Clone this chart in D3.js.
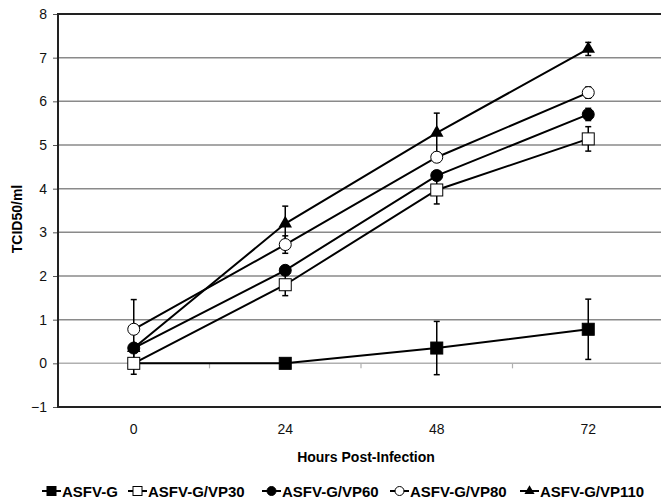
<!DOCTYPE html>
<meta charset="utf-8">
<script src="https://d3js.org/d3.v7.min.js"></script>
<style>
  body { margin: 0; background: #fff; }
  text { font-family: "Liberation Sans", Arial, sans-serif; }
</style>
<div id="chart"></div>
<script>
// data
const hours = ["0", "24", "48", "72"];
const seriesNames = ["ASFV-G", "ASFV-G/VP30", "ASFV-G/VP60", "ASFV-G/VP80", "ASFV-G/VP110"];
const asfvG    = [0, 0, 0.35, 0.78];
const asfvGErr = [0, 0, 0.61, 0.69];
const vp30     = [0, 1.8, 3.97, 5.14];
const vp30Err  = [0.25, 0.25, 0.32, 0.28];
const vp60     = [0.35, 2.13, 4.3, 5.7];
const vp60Err  = [0.08, 0.1, 0.1, 0.14];
const vp80     = [0.78, 2.72, 4.72, 6.2];
const vp80Err  = [0.68, 0.2, 0.1, 0.13];
const vp110    = [0.35, 3.2, 5.28, 7.2];
const vp110Err = [0.08, 0.4, 0.45, 0.15];
const yTicks = [-1, 0, 1, 2, 3, 4, 5, 6, 7, 8];

const markers = ["squareFilled", "squareOpen", "circleFilled", "circleOpen", "triangle"];
const errs = [asfvGErr, vp30Err, vp60Err, vp80Err, vp110Err];
const series = [asfvG, vp30, vp60, vp80, vp110].map((v, i) => ({
  name: seriesNames[i],
  marker: markers[i],
  points: v.map((y, j) => ({h: hours[j], y: y, e: errs[i][j]}))
}));

const W = 661, H = 500;
const plot = {left: 58, top: 14, right: 664, bottom: 407};

const svg = d3.select("#chart").append("svg")
  .attr("width", W).attr("height", H);

const x = d3.scaleBand().domain(hours).range([plot.left, plot.right]);
const cx = h => x(h) + x.bandwidth() / 2;
const y = d3.scaleLinear().domain([-1, 8]).range([plot.bottom, plot.top]);

// gridlines
svg.append("g").selectAll("line")
  .data(yTicks.filter(t => t !== -1))
  .join("line")
  .attr("x1", plot.left).attr("x2", W)
  .attr("y1", d => y(d)).attr("y2", d => y(d))
  .attr("stroke", d => d === 0 ? "#b0b0b0" : "#8a8a8a")
  .attr("stroke-width", 1.5);

// category ticks on the zero line
svg.append("g").selectAll("line")
  .data(hours.slice(1))
  .join("line")
  .attr("x1", d => x(d)).attr("x2", d => x(d))
  .attr("y1", y(0)).attr("y2", y(0) + 5)
  .attr("stroke", "#b0b0b0").attr("stroke-width", 1.2);

// y axis
const yAxis = svg.append("g")
  .attr("transform", `translate(${plot.left},0)`)
  .call(d3.axisLeft(y).tickValues(yTicks).tickSize(5).tickPadding(6).tickFormat(d3.format("d")));
yAxis.select(".domain").remove();
yAxis.selectAll(".tick line").attr("stroke", "#555");
yAxis.selectAll(".tick text").attr("font-size", 14).attr("fill", "#111")
  .style("font-family", "'Liberation Sans', Arial, sans-serif");

// plot border (left, top, bottom)
svg.append("path")
  .attr("d", `M${W},${plot.top}H${plot.left}V${plot.bottom}H${W}`)
  .attr("fill", "none").attr("stroke", "#222").attr("stroke-width", 2);

// x labels
const xAxis = svg.append("g")
  .attr("transform", `translate(0,${plot.bottom})`)
  .call(d3.axisBottom(x).tickSize(0).tickPadding(17));
xAxis.select(".domain").remove();
xAxis.selectAll(".tick text").attr("font-size", 14).attr("fill", "#111")
  .style("font-family", "'Liberation Sans', Arial, sans-serif");

svg.append("text")
  .attr("x", 366).attr("y", 462)
  .attr("text-anchor", "middle")
  .attr("font-size", 14).attr("font-weight", "bold")
  .text("Hours Post-Infection");

svg.append("text")
  .attr("transform", `translate(22,219) rotate(-90)`)
  .attr("text-anchor", "middle")
  .attr("font-size", 14).attr("font-weight", "bold")
  .text("TCID50/ml");

// lines
const line = d3.line().x(d => cx(d.h)).y(d => y(d.y));
svg.append("g").selectAll("path")
  .data(series)
  .join("path")
  .attr("d", d => line(d.points))
  .attr("fill", "none").attr("stroke", "#000").attr("stroke-width", 2);

// error bars
const eb = svg.append("g").attr("stroke", "#000").attr("stroke-width", 1.5);
series.forEach(s => {
  s.points.filter(p => p.e > 0).forEach(p => {
    const xx = cx(p.h);
    eb.append("line").attr("x1", xx).attr("x2", xx)
      .attr("y1", y(p.y - p.e)).attr("y2", y(p.y + p.e));
    [p.y - p.e, p.y + p.e].forEach(v => {
      eb.append("line").attr("x1", xx - 3).attr("x2", xx + 3)
        .attr("y1", y(v)).attr("y2", y(v));
    });
  });
});

function drawMarker(g, type, px, py, size) {
  const half = size / 2;
  if (type.startsWith("square")) {
    g.append("rect").attr("x", px - half).attr("y", py - half)
      .attr("width", size).attr("height", size)
      .attr("fill", type === "squareFilled" ? "#000" : "#fff")
      .attr("stroke", "#000").attr("stroke-width", 1);
  } else if (type.startsWith("circle")) {
    g.append("circle").attr("cx", px).attr("cy", py).attr("r", half)
      .attr("fill", type === "circleFilled" ? "#000" : "#fff")
      .attr("stroke", "#000").attr("stroke-width", 1);
  } else {
    g.append("path")
      .attr("d", d3.symbol().type(d3.symbolTriangle).size(size * size * 0.55)())
      .attr("transform", `translate(${px},${py})`)
      .attr("fill", "#000");
  }
}

// markers
const mk = svg.append("g");
series.forEach(s => {
  s.points.forEach(p => {
    if (s.name === "ASFV-G" && p.h === "0") return;
    drawMarker(mk, s.marker, cx(p.h), y(p.y), 12);
  });
});

// legend
const legendX = [42, 128, 262, 390, 520];
const leg = svg.append("g");
series.forEach((s, i) => {
  const g = leg.append("g").attr("transform", `translate(${legendX[i]},491)`);
  g.append("line").attr("x1", 0).attr("x2", 19).attr("y1", 0).attr("y2", 0)
    .attr("stroke", "#000").attr("stroke-width", 2);
  drawMarker(g, s.marker, 9.5, 0, 9);
  g.append("text").attr("x", 20).attr("y", 5.5)
    .attr("font-size", 15).attr("font-weight", "bold")
    .text(s.name);
});
</script>
